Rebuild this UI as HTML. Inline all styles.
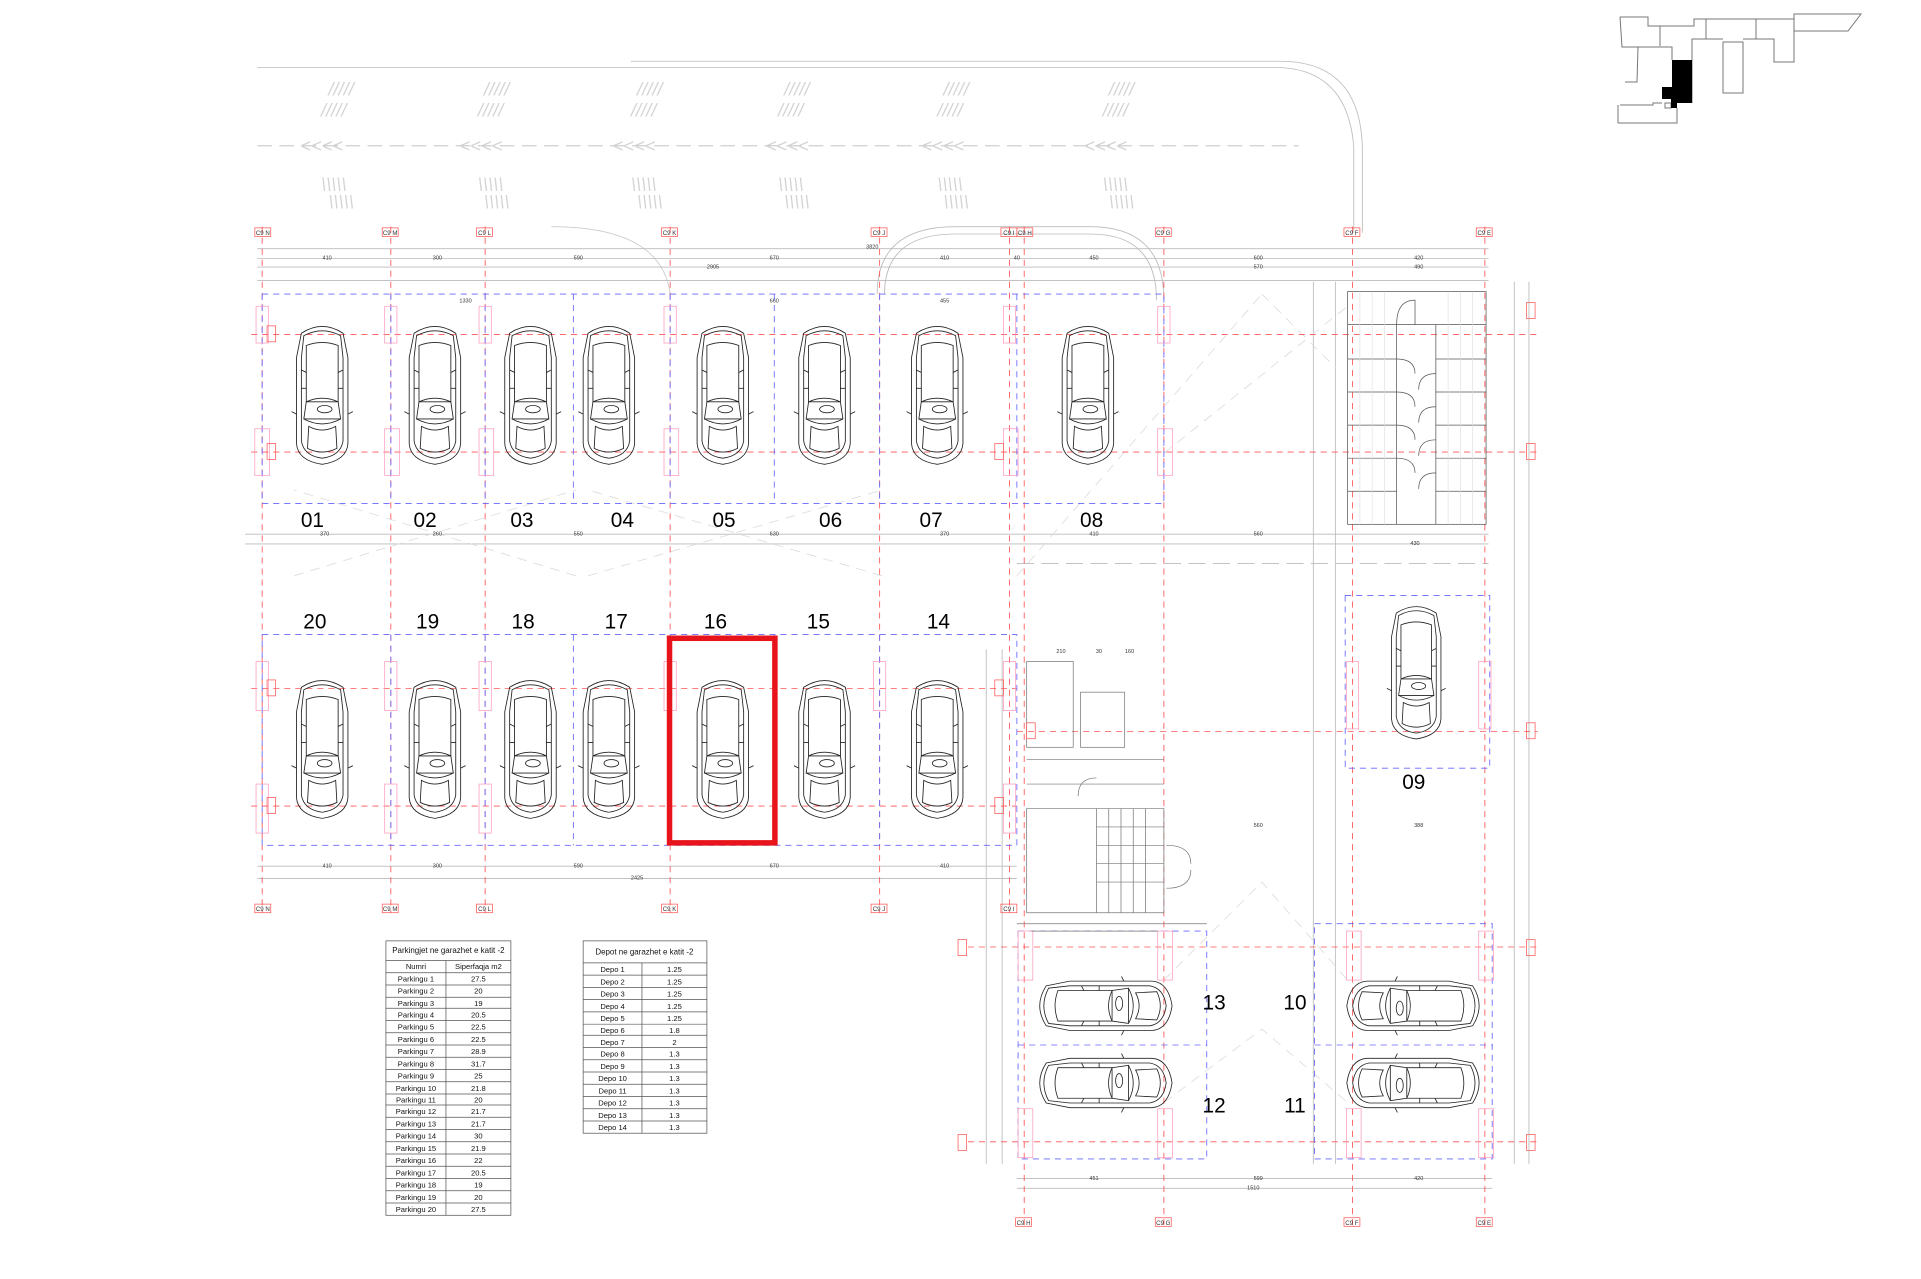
<!DOCTYPE html>
<html><head><meta charset="utf-8"><style>
html,body{margin:0;padding:0;background:#fff;width:1921px;height:1279px;overflow:hidden}
svg{position:absolute;left:0;top:0}
text{font-family:"Liberation Sans",sans-serif}
</style></head><body>
<svg width="1921" height="1279" viewBox="0 0 1568 1044" preserveAspectRatio="none" xmlns="http://www.w3.org/2000/svg">
<defs>
<symbol id="car" viewBox="0 0 50 118" overflow="visible">
<g fill="none" stroke="#222" stroke-width="0.7">
<path d="M8 10 Q25 -1 42 10 L46 30 L46 100 Q45 114 25 117 Q5 114 4 100 L4 30 Z"/>
<path d="M10 12 Q25 4 40 12 L42 30 L42 98 Q40 110 25 112 Q10 110 8 98 L8 30 Z"/>
<path d="M12 20 Q25 15 38 20 L38 66 L12 66 Z"/>
<path d="M12 66 Q25 60 38 66 L40 80 L10 80 Z"/>
<path d="M10 80 Q25 88 40 80"/>
<path d="M14 86 Q25 92 36 86 L37 104 Q25 110 13 104 Z"/>
<path d="M4 76 L0 74 M46 76 L50 74"/>
<ellipse cx="27" cy="72" rx="6" ry="3"/>
<path d="M8 40 L12 42 M42 40 L38 42 M8 55 L12 55 M42 55 L38 55"/>
</g>
</symbol>
</defs>
<g fill="none" stroke="#bbb" stroke-width="0.7">
<path d="M210 55 L1040 55 Q1100 55 1105 120 L1105 190"/>
<path d="M515 50 L1045 50 Q1110 50 1112 120 L1112 190"/>
<path d="M210 119 L1060 119" stroke-dasharray="12 6"/>
<path d="M450 185 Q540 185 547 240" stroke="#ccc"/>
<path d="M716 240 Q716 185 780 185 L890 185 Q950 185 950 245"/>
<path d="M722 240 Q722 191 780 191 L890 191 Q944 191 944 245"/>
<path d="M210 203 L1215 203 M210 211 L1215 211 M210 218 L1215 218 M210 229 L1215 229"/>
<path d="M200 436 L1215 436 M200 444 L1215 444 M210 707 L830 707 M210 717 L830 717"/>
<path d="M830 962 L1218 962 M830 970 L1218 970"/>
<path d="M830 460 L1215 460" stroke-dasharray="14 6"/>
<path d="M1236 230 L1236 950 M1248 230 L1248 950 M1072 230 L1072 950 M1090 230 L1090 950 M805 530 L805 950 M818 530 L818 950"/>
</g>
<g font-size="15" fill="#d4d4d4" font-style="italic">
<text x="268" y="78">/////</text><text x="395" y="78">/////</text><text x="520" y="78">/////</text><text x="640" y="78">/////</text><text x="770" y="78">/////</text><text x="905" y="78">/////</text>
<text x="262" y="95">/////</text><text x="390" y="95">/////</text><text x="515" y="95">/////</text><text x="635" y="95">/////</text><text x="765" y="95">/////</text><text x="900" y="95">/////</text>
<text x="245" y="124">&lt;&lt;&lt;&lt;</text><text x="375" y="124">&lt;&lt;&lt;&lt;</text><text x="500" y="124">&lt;&lt;&lt;&lt;</text><text x="625" y="124">&lt;&lt;&lt;&lt;</text><text x="752" y="124">&lt;&lt;&lt;&lt;</text><text x="885" y="124">&lt;&lt;&lt;&lt;</text>
<text x="262" y="156">\\\\\</text><text x="390" y="156">\\\\\</text><text x="515" y="156">\\\\\</text><text x="635" y="156">\\\\\</text><text x="765" y="156">\\\\\</text><text x="900" y="156">\\\\\</text>
<text x="268" y="170">\\\\\</text><text x="395" y="170">\\\\\</text><text x="520" y="170">\\\\\</text><text x="640" y="170">\\\\\</text><text x="770" y="170">\\\\\</text><text x="905" y="170">\\\\\</text>
</g>
<g stroke="#ddd" stroke-width="0.7" stroke-dasharray="8 6" fill="none">
<path d="M240 470 L470 400 M470 470 L240 400 M480 470 L720 400 M720 470 L480 400 M830 470 L1030 240 M1030 240 L1090 300 M950 370 L1100 250 M950 800 L1030 720 L1100 800 M950 900 L1030 840 L1100 900"/>
</g>
<g stroke="#f55" stroke-width="0.7" stroke-dasharray="5 4" fill="none">
<path d="M214 185 L214 745 M319 185 L319 745 M396 185 L396 745 M547 185 L547 745 M718 185 L718 745 M824 185 L824 745 M836 185 L836 1000 M950 185 L950 1000 M1104 185 L1104 1000 M1212 185 L1212 1000"/>
<path d="M205 273 L1255 273 M205 369 L1255 369 M205 562 L830 562 M205 658 L830 658 M830 597 L1255 597 M790 773 L1255 773 M790 932 L1255 932"/>
</g>
<g stroke="#66f" stroke-width="0.7" stroke-dasharray="5 4" fill="none">
<path d="M214 240 L950 240 L950 411 L214 411 Z M319 240 L319 411 M396 240 L396 411 M468 240 L468 411 M547 240 L547 411 M632 240 L632 411 M718 240 L718 411 M830 240 L830 411"/>
<path d="M214 518 L830 518 L830 690 L214 690 Z M319 518 L319 690 M396 518 L396 690 M468 518 L468 690 M547 518 L547 690 M632 518 L632 690 M718 518 L718 690"/>
<path d="M1098 486 L1216 486 L1216 627 L1098 627 Z"/>
<path d="M831 760 L985 760 L985 946 L831 946 Z M831 853 L985 853"/>
<path d="M1073 754 L1218 754 L1218 946 L1073 946 Z M1073 853 L1218 853"/>
</g>
<g stroke="#f9b" stroke-width="0.6" fill="none">
<rect x="209" y="250" width="10" height="30"/><rect x="208" y="350" width="12" height="38"/>
<rect x="314" y="250" width="10" height="30"/><rect x="314" y="350" width="12" height="38"/>
<rect x="391" y="250" width="10" height="30"/><rect x="391" y="350" width="12" height="38"/>
<rect x="542" y="250" width="10" height="30"/><rect x="542" y="350" width="12" height="38"/>
<rect x="819" y="250" width="10" height="30"/><rect x="819" y="350" width="12" height="38"/>
<rect x="945" y="250" width="10" height="30"/><rect x="945" y="350" width="12" height="38"/>
<rect x="209" y="540" width="10" height="40"/><rect x="209" y="640" width="10" height="40"/>
<rect x="314" y="540" width="10" height="40"/><rect x="314" y="640" width="10" height="40"/>
<rect x="391" y="540" width="10" height="40"/><rect x="391" y="640" width="10" height="40"/>
<rect x="542" y="540" width="10" height="40"/><rect x="713" y="540" width="10" height="40"/>
<rect x="819" y="540" width="10" height="40"/><rect x="819" y="640" width="10" height="40"/>
<rect x="1099" y="540" width="10" height="55"/><rect x="1207" y="540" width="10" height="55"/>
<rect x="831" y="760" width="12" height="40"/><rect x="945" y="760" width="12" height="40"/>
<rect x="831" y="905" width="12" height="40"/><rect x="945" y="905" width="12" height="40"/>
<rect x="1099" y="760" width="12" height="40"/><rect x="1207" y="760" width="12" height="40"/>
<rect x="1099" y="905" width="12" height="40"/><rect x="1207" y="905" width="12" height="40"/>
</g>
<g stroke="#555" stroke-width="0.6" fill="none">
<rect x="1100" y="238" width="113" height="190"/>
<path d="M1100 265 L1213 265 M1100 293 L1140 293 M1172 293 L1213 293 M1100 320 L1140 320 M1172 320 L1213 320 M1100 347 L1140 347 M1172 347 L1213 347 M1100 374 L1140 374 M1172 374 L1213 374 M1100 401 L1140 401 M1172 401 L1213 401"/>
<path d="M1140 265 L1140 428 M1172 265 L1172 428"/>
<path d="M1140 293 Q1155 293 1155 305 M1172 305 Q1158 305 1158 318 M1140 320 Q1155 320 1155 332 M1172 332 Q1158 332 1158 345 M1140 347 Q1155 347 1155 359 M1172 359 Q1158 359 1158 372 M1140 374 Q1155 374 1155 386 M1172 386 Q1158 386 1158 399 M1140 265 Q1140 245 1155 245 L1155 265"/>
</g>
<g stroke="#ddd" stroke-width="0.5" fill="none">
<path d="M1110 238 L1110 428 M1120 238 L1120 428 M1130 238 L1130 428 M1182 238 L1182 428 M1192 238 L1192 428 M1202 238 L1202 428"/>
</g>
<g stroke="#777" stroke-width="0.6" fill="none">
<rect x="838" y="540" width="38" height="70"/><rect x="882" y="565" width="36" height="45"/>
<path d="M838 620 L950 620 M838 640 L950 640 M838 660 L950 660 L950 745 L838 745 Z"/>
<path d="M895 660 L895 745 M905 660 L905 745 M915 660 L915 745 M925 660 L925 745 M935 660 L935 745 M895 675 L950 675 M895 690 L950 690 M895 705 L950 705 M895 720 L950 720"/>
<path d="M952 690 Q972 690 972 705 M952 725 Q972 725 972 710 M880 650 Q880 635 895 635"/>
<path d="M830 754 L985 754 M842 760 L945 760"/>
</g>
<g>
<use href="#car" x="238" y="262" width="50" height="118"/>
<use href="#car" x="330" y="262" width="50" height="118"/>
<use href="#car" x="408" y="262" width="50" height="118"/>
<use href="#car" x="472" y="262" width="50" height="118"/>
<use href="#car" x="565" y="262" width="50" height="118"/>
<use href="#car" x="648" y="262" width="50" height="118"/>
<use href="#car" x="740" y="262" width="50" height="118"/>
<use href="#car" x="863" y="262" width="50" height="118"/>
<use href="#car" x="238" y="551" width="50" height="118"/>
<use href="#car" x="330" y="551" width="50" height="118"/>
<use href="#car" x="408" y="551" width="50" height="118"/>
<use href="#car" x="472" y="551" width="50" height="118"/>
<use href="#car" x="565" y="551" width="50" height="118"/>
<use href="#car" x="648" y="551" width="50" height="118"/>
<use href="#car" x="740" y="551" width="50" height="118"/>
<use href="#car" x="1132" y="489" width="48" height="117"/>
<g transform="translate(842,845) rotate(-90)"><use href="#car" x="0" y="0" width="48" height="118"/></g>
<g transform="translate(842,908) rotate(-90)"><use href="#car" x="0" y="0" width="48" height="118"/></g>
<g transform="translate(1214,797) rotate(90)"><use href="#car" x="0" y="0" width="48" height="118"/></g>
<g transform="translate(1214,860) rotate(90)"><use href="#car" x="0" y="0" width="48" height="118"/></g>
</g>
<rect x="546.5" y="521" width="86" height="167" fill="none" stroke="#e8141b" stroke-width="4.5"/>
<g font-size="17" fill="#000" text-anchor="middle">
<text x="255" y="430">01</text><text x="347" y="430">02</text><text x="426" y="430">03</text><text x="508" y="430">04</text><text x="591" y="430">05</text><text x="678" y="430">06</text><text x="760" y="430">07</text><text x="891" y="430">08</text>
<text x="257" y="513">20</text><text x="349" y="513">19</text><text x="427" y="513">18</text><text x="503" y="513">17</text><text x="584" y="513">16</text><text x="668" y="513">15</text><text x="766" y="513">14</text>
<text x="1154" y="644">09</text><text x="991" y="824">13</text><text x="1057" y="824">10</text><text x="991" y="908">12</text><text x="1057" y="908">11</text>
</g>
<g font-size="4.5" fill="#333" text-anchor="middle">
<text x="267" y="212">410</text><text x="357" y="212">300</text><text x="472" y="212">590</text><text x="632" y="212">670</text><text x="771" y="212">410</text><text x="830" y="212">40</text><text x="893" y="212">450</text><text x="1027" y="212">600</text><text x="1158" y="212">420</text>
<text x="712" y="203">3820</text><text x="582" y="219">2905</text><text x="1027" y="219">570</text><text x="1158" y="219">490</text>
<text x="380" y="247">1330</text><text x="632" y="247">660</text><text x="771" y="247">455</text>
<text x="265" y="437">370</text><text x="357" y="437">260</text><text x="472" y="437">550</text><text x="632" y="437">630</text><text x="771" y="437">370</text><text x="893" y="437">410</text><text x="1027" y="437">560</text><text x="1155" y="445">430</text>
<text x="267" y="708">410</text><text x="357" y="708">300</text><text x="472" y="708">590</text><text x="632" y="708">670</text><text x="771" y="708">410</text><text x="520" y="718">2425</text>
<text x="893" y="963">451</text><text x="1027" y="963">599</text><text x="1158" y="963">420</text><text x="1023" y="971">1510</text>
<text x="866" y="533">210</text><text x="897" y="533">30</text><text x="922" y="533">160</text><text x="1027" y="675">560</text><text x="1158" y="675">388</text>
</g>
<g font-size="5" fill="#333" text-anchor="middle">
<g stroke="#f55" stroke-width="0.6" fill="none">
<rect x="208" y="186" width="13" height="7"/><rect x="312" y="186" width="13" height="7"/><rect x="389" y="186" width="13" height="7"/><rect x="540" y="186" width="13" height="7"/><rect x="711" y="186" width="13" height="7"/><rect x="817" y="186" width="13" height="7"/><rect x="830" y="186" width="13" height="7"/><rect x="943" y="186" width="13" height="7"/><rect x="1097" y="186" width="13" height="7"/><rect x="1205" y="186" width="13" height="7"/>
<rect x="208" y="738" width="13" height="7"/><rect x="312" y="738" width="13" height="7"/><rect x="389" y="738" width="13" height="7"/><rect x="540" y="738" width="13" height="7"/><rect x="711" y="738" width="13" height="7"/><rect x="817" y="738" width="13" height="7"/>
<rect x="829" y="994" width="13" height="7"/><rect x="943" y="994" width="13" height="7"/><rect x="1097" y="994" width="13" height="7"/><rect x="1205" y="994" width="13" height="7"/>
<rect x="1246" y="247" width="7" height="13"/><rect x="1246" y="362" width="7" height="13"/><rect x="1246" y="590" width="7" height="13"/><rect x="1246" y="767" width="7" height="13"/><rect x="1246" y="926" width="7" height="13"/>
<rect x="218" y="266" width="7" height="13"/><rect x="218" y="362" width="7" height="13"/><rect x="218" y="555" width="7" height="13"/><rect x="218" y="651" width="7" height="13"/>
<rect x="812" y="362" width="7" height="13"/><rect x="812" y="555" width="7" height="13"/><rect x="812" y="651" width="7" height="13"/><rect x="838" y="590" width="7" height="13"/>
<rect x="782" y="767" width="7" height="13"/><rect x="782" y="926" width="7" height="13"/>
</g>
<text x="214.5" y="191.8">C9 N</text><text x="318.5" y="191.8">C9 M</text><text x="395.5" y="191.8">C9 L</text><text x="546.5" y="191.8">C9 K</text><text x="717.5" y="191.8">C9 J</text><text x="823.5" y="191.8">C9 I</text><text x="836.5" y="191.8">C9 H</text><text x="949.5" y="191.8">C9 G</text><text x="1103.5" y="191.8">C9 F</text><text x="1211.5" y="191.8">C9 E</text>
<text x="214.5" y="743.8">C9 N</text><text x="318.5" y="743.8">C9 M</text><text x="395.5" y="743.8">C9 L</text><text x="546.5" y="743.8">C9 K</text><text x="717.5" y="743.8">C9 J</text><text x="823.5" y="743.8">C9 I</text>
<text x="835.5" y="999.8">C9 H</text><text x="949.5" y="999.8">C9 G</text><text x="1103.5" y="999.8">C9 F</text><text x="1211.5" y="999.8">C9 E</text>
</g>
<g font-size="6.2" fill="#111" text-anchor="middle">
<g stroke="#555" stroke-width="0.6" fill="none">
<rect x="315" y="768" width="102" height="224"/>
<path d="M315 784 L417 784 M364 784 L364 992"/>
<path d="M315 794 L417 794 M315 804 L417 804 M315 814 L417 814 M315 823 L417 823 M315 833 L417 833 M315 843 L417 843 M315 853 L417 853 M315 863 L417 863 M315 873 L417 873 M315 883 L417 883 M315 893 L417 893 M315 902 L417 902 M315 912 L417 912 M315 922 L417 922 M315 932 L417 932 M315 942 L417 942 M315 952 L417 952 M315 962 L417 962 M315 972 L417 972 M315 982 L417 982"/>
<rect x="476" y="768" width="101" height="157"/>
<path d="M476 786 L577 786 M524 786 L524 925"/>
<path d="M476 796 L577 796 M476 806 L577 806 M476 816 L577 816 M476 826 L577 826 M476 836 L577 836 M476 845 L577 845 M476 855 L577 855 M476 865 L577 865 M476 875 L577 875 M476 885 L577 885 M476 895 L577 895 M476 905 L577 905 M476 915 L577 915"/>
</g>
<text x="366" y="778" font-size="6.5">Parkingjet ne garazhet e katit -2</text>
<text x="339.5" y="791">Numri</text><text x="390.5" y="791">Siperfaqja m2</text>
<text x="339.5" y="801">Parkingu 1</text><text x="390.5" y="801">27.5</text>
<text x="339.5" y="811">Parkingu 2</text><text x="390.5" y="811">20</text>
<text x="339.5" y="821">Parkingu 3</text><text x="390.5" y="821">19</text>
<text x="339.5" y="830.5">Parkingu 4</text><text x="390.5" y="830.5">20.5</text>
<text x="339.5" y="840.5">Parkingu 5</text><text x="390.5" y="840.5">22.5</text>
<text x="339.5" y="850.5">Parkingu 6</text><text x="390.5" y="850.5">22.5</text>
<text x="339.5" y="860.5">Parkingu 7</text><text x="390.5" y="860.5">28.9</text>
<text x="339.5" y="870.5">Parkingu 8</text><text x="390.5" y="870.5">31.7</text>
<text x="339.5" y="880.5">Parkingu 9</text><text x="390.5" y="880.5">25</text>
<text x="339.5" y="890.5">Parkingu 10</text><text x="390.5" y="890.5">21.8</text>
<text x="339.5" y="900">Parkingu 11</text><text x="390.5" y="900">20</text>
<text x="339.5" y="909.5">Parkingu 12</text><text x="390.5" y="909.5">21.7</text>
<text x="339.5" y="919.5">Parkingu 13</text><text x="390.5" y="919.5">21.7</text>
<text x="339.5" y="929.5">Parkingu 14</text><text x="390.5" y="929.5">30</text>
<text x="339.5" y="939.5">Parkingu 15</text><text x="390.5" y="939.5">21.9</text>
<text x="339.5" y="949.5">Parkingu 16</text><text x="390.5" y="949.5">22</text>
<text x="339.5" y="959.5">Parkingu 17</text><text x="390.5" y="959.5">20.5</text>
<text x="339.5" y="969.5">Parkingu 18</text><text x="390.5" y="969.5">19</text>
<text x="339.5" y="979.5">Parkingu 19</text><text x="390.5" y="979.5">20</text>
<text x="339.5" y="989.5">Parkingu 20</text><text x="390.5" y="989.5">27.5</text>
<text x="526" y="779" font-size="6.5">Depot ne garazhet e katit -2</text>
<text x="500" y="793.5">Depo 1</text><text x="550.5" y="793.5">1.25</text>
<text x="500" y="803.5">Depo 2</text><text x="550.5" y="803.5">1.25</text>
<text x="500" y="813.5">Depo 3</text><text x="550.5" y="813.5">1.25</text>
<text x="500" y="823.5">Depo 4</text><text x="550.5" y="823.5">1.25</text>
<text x="500" y="833.5">Depo 5</text><text x="550.5" y="833.5">1.25</text>
<text x="500" y="843">Depo 6</text><text x="550.5" y="843">1.8</text>
<text x="500" y="853">Depo 7</text><text x="550.5" y="853">2</text>
<text x="500" y="862.5">Depo 8</text><text x="550.5" y="862.5">1.3</text>
<text x="500" y="872.5">Depo 9</text><text x="550.5" y="872.5">1.3</text>
<text x="500" y="882.5">Depo 10</text><text x="550.5" y="882.5">1.3</text>
<text x="500" y="892.5">Depo 11</text><text x="550.5" y="892.5">1.3</text>
<text x="500" y="902.5">Depo 12</text><text x="550.5" y="902.5">1.3</text>
<text x="500" y="912.5">Depo 13</text><text x="550.5" y="912.5">1.3</text>
<text x="500" y="922.5">Depo 14</text><text x="550.5" y="922.5">1.3</text>
</g>
</svg>
<svg width="1921" height="1279" viewBox="0 0 1921 1279" xmlns="http://www.w3.org/2000/svg">
<g fill="none" stroke="#777" stroke-width="1">
<polyline points="1620,17 1648,17 1648,26 1694,26 1694,19 1794,19"/>
<polygon points="1794,14 1861,14 1848,31 1794,31"/>
<path d="M1660,26 L1660,46 M1706,19 L1706,39 M1756,19 L1756,39"/>
<polyline points="1692,103 1692,39 1723,39"/>
<rect x="1723" y="42" width="20" height="51"/>
<polyline points="1743,39 1774,39 1774,62 1794,62 1794,31"/>
<polyline points="1638,47 1672,47 1672,60"/>
<polyline points="1620,17 1622,47 1638,47"/>
<polyline points="1638,47 1637,82 1625,82"/>
<polyline points="1620,105 1653,105 1653,103 1662,103"/>
<polyline points="1618,123 1677,123 1677,108"/>
<path d="M1618,105 L1618,123"/>
<rect x="1665" y="103" width="6" height="5"/>
</g>
<polygon points="1672,60 1692,60 1692,103 1677,103 1677,108 1671,108 1671,99 1662,99 1662,87 1672,87" fill="#000"/>
</svg>
</body></html>
